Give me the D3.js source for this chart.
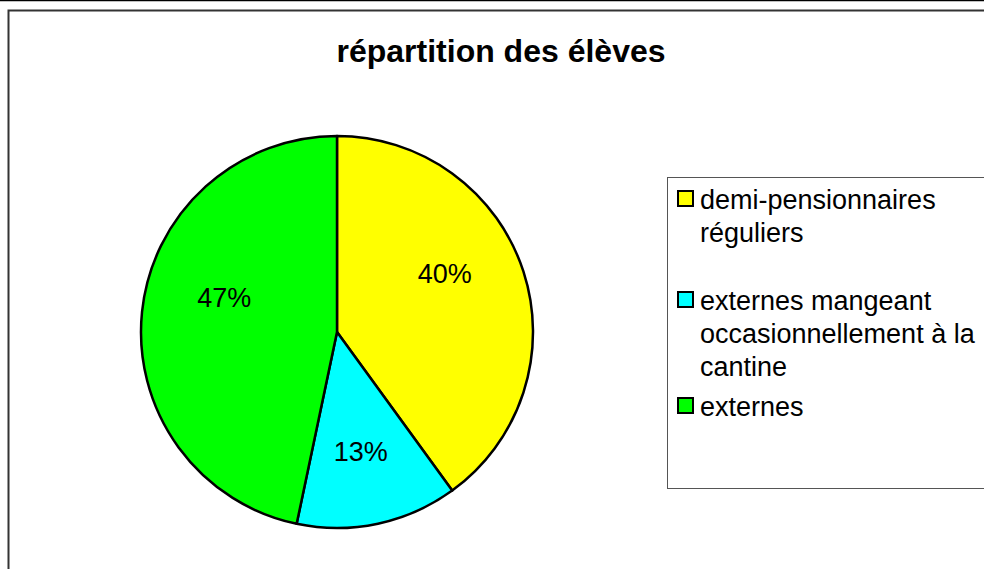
<!DOCTYPE html>
<html>
<head>
<meta charset="utf-8">
<script src="https://cdn.jsdelivr.net/npm/d3@7"></script>
<style>
  body { margin: 0; background: #fff; }
  svg { display: block; font-family: "Liberation Sans", Arial, sans-serif; }
</style>
</head>
<body>
<svg id="chart" width="984" height="569"></svg>
<script>
const title = "répartition des élèves";
const categories = [
  ["demi-pensionnaires", "réguliers"],
  ["externes mangeant", "occasionnellement à la", "cantine"],
  ["externes"]
];
const values = [40, 13.3, 46.7];
const labels = ["40%", "13%", "47%"];
const colors = ["#ffff00", "#00ffff", "#00ff00"];

const width = 984, height = 569;
const svg = d3.select("#chart");

// outer chart frame
svg.append("line")
  .attr("x1", 0).attr("x2", width)
  .attr("y1", 0.5).attr("y2", 0.5)
  .attr("stroke", "#000").attr("stroke-width", 1.5);
svg.append("rect")
  .attr("x", 8.5).attr("y", 10.5)
  .attr("width", width + 20).attr("height", height + 20)
  .attr("fill", "none").attr("stroke", "#333").attr("stroke-width", 2);

// title
svg.append("text")
  .attr("x", 501).attr("y", 62)
  .attr("text-anchor", "middle")
  .style("font-size", "32px").style("font-weight", "bold")
  .text(title);

// pie
const radius = 196;
const cx = 337, cy = 332;
const pie = d3.pie().sort(null).value(d => d);
const arc = d3.arc().innerRadius(0).outerRadius(radius);
const labelArc = d3.arc().innerRadius(118).outerRadius(118);

const g = svg.append("g").attr("transform", "translate(" + cx + "," + cy + ")");
const slices = pie(values);

g.selectAll("path")
  .data(slices)
  .enter()
  .append("path")
  .attr("d", arc)
  .attr("fill", (d, i) => colors[i])
  .attr("stroke", "#000")
  .attr("stroke-width", 2.5)
  .attr("stroke-linejoin", "round");

// labels sit a bit higher than the centroid in the upper half, like the original
g.selectAll("text")
  .data(slices)
  .enter()
  .append("text")
  .attr("x", d => labelArc.centroid(d)[0] * 0.96)
  .attr("y", d => labelArc.centroid(d)[1] - (labelArc.centroid(d)[1] < 0 ? 22 : -4))
  .attr("dy", "0.35em")
  .attr("text-anchor", "middle")
  .style("font-size", "27px")
  .text((d, i) => labels[i]);

// legend
const legend = svg.append("g");
legend.append("rect")
  .attr("x", 667.5).attr("y", 177.5)
  .attr("width", 400).attr("height", 311)
  .attr("fill", "#fff").attr("stroke", "#555").attr("stroke-width", 1);

const lineH = 33;
const entryTop = [209, 310, 416];
categories.forEach((lines, i) => {
  const item = legend.append("g");
  item.append("rect")
    .attr("x", 678).attr("y", entryTop[i] - 18)
    .attr("width", 15).attr("height", 15)
    .attr("fill", colors[i]).attr("stroke", "#000").attr("stroke-width", 2);
  const t = item.append("text")
    .attr("x", 700).attr("y", entryTop[i])
    .style("font-size", "27px");
  lines.forEach((l, j) => {
    t.append("tspan").attr("x", 700).attr("dy", j === 0 ? 0 : lineH).text(l);
  });
});
</script>
</body>
</html>
